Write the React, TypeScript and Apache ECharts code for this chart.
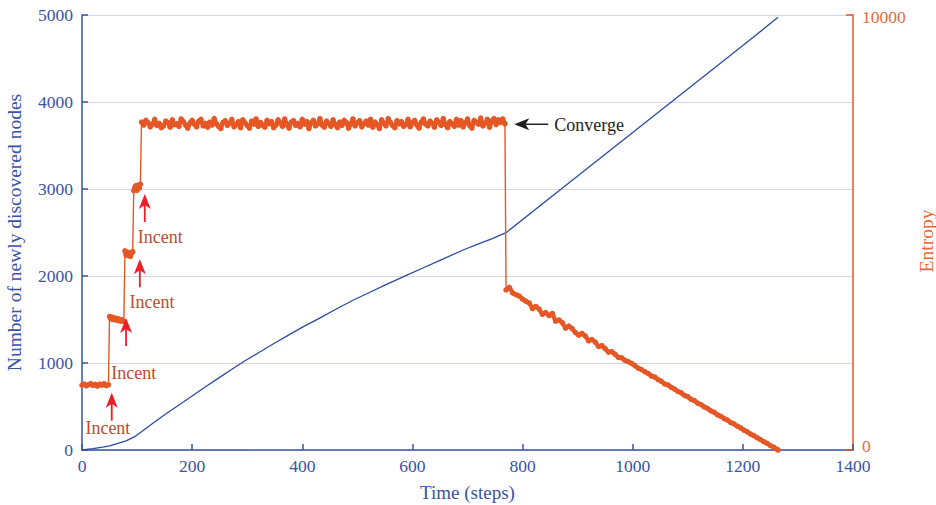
import React, { useEffect, useRef } from "react";
import * as echarts from "echarts";

// ---- Blue series: number of newly discovered nodes (left axis) ----
const blueTimes = [0, 20, 40, 50, 65, 80, 95, 108, 125, 150, 178, 200, 225, 250, 275, 293, 325, 350, 375, 402, 430, 460, 493, 520, 550, 590, 620, 650, 692, 720, 745, 770, 900, 1000, 1100, 1200, 1264];
const blueNodes = [0, 15, 35, 48, 75, 105, 150, 210, 290, 405, 525, 620, 730, 835, 940, 1015, 1135, 1230, 1320, 1418, 1510, 1615, 1724, 1805, 1895, 2011, 2095, 2180, 2299, 2370, 2430, 2498, 3150, 3650, 4150, 4650, 4973];

// ---- Orange series: entropy (right axis), read segment by segment ----
const phase1Entropy = [1490, 1515, 1475, 1505, 1525, 1485, 1510, 1470, 1515, 1490, 1525, 1480, 1500];
const phase2Entropy = [3070, 3020, 3055, 3000, 3045, 3015, 2985, 3025, 2975, 3005, 2960, 2995, 2970, 2955];
const phase3Entropy = [4580, 4480, 4550, 4470, 4540, 4450, 4520, 4560];
const phase4Entropy = [5960, 6040, 6080, 5970, 6090, 6020, 6110];
const plateauEntropy = [
  7540, 7470, 7580, 7520, 7430, 7490, 7600, 7460, 7510, 7410,
  7450, 7560, 7530, 7420, 7590, 7480, 7500, 7440, 7610, 7550,
  7470, 7400, 7520, 7580, 7490, 7430, 7560, 7600, 7450, 7510,
  7420, 7540, 7470, 7620, 7500, 7440, 7390, 7530, 7570, 7460,
  7510, 7600, 7430, 7480, 7550, 7410, 7590, 7520, 7460, 7400,
  7560, 7490, 7610, 7440, 7530, 7470, 7420, 7580, 7500, 7550,
  7410, 7470, 7590, 7520, 7440, 7610, 7480, 7400, 7540, 7570,
  7460, 7510, 7430, 7600, 7490, 7550, 7390, 7520, 7580, 7450,
  7500, 7620, 7470, 7420, 7560, 7510, 7440, 7590, 7480, 7410,
  7540, 7460, 7580, 7530, 7400, 7490, 7610, 7450, 7520, 7570,
  7430, 7500, 7560, 7470, 7600, 7420, 7540, 7480, 7390, 7590,
  7510, 7450, 7620, 7530, 7460, 7410, 7570, 7500, 7550, 7440,
  7480, 7600, 7430, 7520, 7580, 7470, 7400, 7540, 7610, 7490,
  7450, 7560, 7510, 7420, 7590, 7530, 7460, 7620, 7480, 7410,
  7550, 7500, 7440, 7600, 7470, 7570, 7430, 7520, 7610, 7460,
  7400, 7580, 7540, 7490, 7630, 7450, 7510, 7600, 7420, 7560,
  7620, 7480, 7590, 7530, 7610, 7500,
];
const declineEntropy = [
  3680, 3740, 3610, 3570, 3540, 3470, 3420, 3380, 3250, 3300,
  3240, 3120, 3160, 3090, 3140, 2960, 2990, 2930, 2800, 2850,
  2790, 2700, 2640, 2680, 2620, 2510, 2540, 2480, 2380, 2400,
  2330, 2250, 2260, 2200, 2130, 2120, 2060, 2030, 1990, 1940,
  1880, 1850, 1800, 1760, 1700, 1675, 1620, 1580, 1520, 1495,
  1440, 1400, 1345, 1315, 1255, 1225, 1165, 1135, 1075, 1045,
  990, 955, 900, 865, 810, 775, 722, 688, 632, 598,
  547, 508, 457, 418, 367, 330, 281, 241, 191, 153,
  103, 64, 16,
];
const entropyEndTime = 1264;
const entropyEndValue = 0;

const entropySegments = [
  { start: 0, step: 4, values: phase1Entropy },
  { start: 50, step: 2, values: phase2Entropy },
  { start: 78, step: 2, values: phase3Entropy },
  { start: 94, step: 2, values: phase4Entropy },
  { start: 108, step: 4, values: plateauEntropy },
  { start: 770, step: 6, values: declineEntropy },
];

// ---- Annotations (time, left-axis value) ----
const incentArrowTips = [[54, 659], [80, 1517], [105, 2192], [114, 2943]];
const incentLabelCenters = [[47, 256], [94, 885], [127, 1705], [142, 2445]];
const convergeTip = [785, 3744];

const xTicks = { min: 0, max: 1400, interval: 200 };
const leftTicks = { min: 0, max: 5000, interval: 1000 };
const rightTicks = { min: 0, max: 10000, interval: 10000 };
const rightTickLabels = [0, 10000];

const BLUE = "#3853a4";
const LINE_BLUE = "#2d4b9f";
const ORANGE = "#e55725";
const ORANGE_AXIS = "#e8825e";
const ORANGE_TEXT = "#e8683a";
const FONT = "'Liberation Serif', 'Times New Roman', serif";

const plain = (v: number) => String(v);

export default function App() {
  const ref = useRef<HTMLDivElement>(null);
  useEffect(() => {
    const chart = echarts.init(ref.current!, null, { renderer: "svg" });

    const blueData = blueTimes.map((t, i) => [t, blueNodes[i]]);
    const thinData: any[] = [];
    const thickData: any[] = [];
    entropySegments.forEach((seg, si) => {
      if (si > 0) thickData.push([seg.start - 1, null]);
      seg.values.forEach((v, i) => {
        const p = [seg.start + i * seg.step, v];
        thinData.push(p);
        thickData.push(p);
      });
    });
    thinData.push([entropyEndTime, entropyEndValue]);
    thickData.push([entropyEndTime, entropyEndValue]);

    chart.setOption({
      animation: false,
      backgroundColor: "#ffffff",
      textStyle: { fontFamily: FONT },
      grid: {
        left: 82,
        right: 83,
        top: 15,
        bottom: 55,
        containLabel: false,
        outerBoundsMode: "none",
      },
      xAxis: {
        type: "value",
        ...xTicks,
        name: "Time (steps)",
        nameLocation: "middle",
        nameGap: 33,
        nameTextStyle: { color: BLUE, fontSize: 19, fontFamily: FONT },
        axisLine: { show: true, lineStyle: { color: BLUE, width: 1.5 } },
        axisTick: { show: true, inside: true, length: 6, lineStyle: { color: BLUE, width: 1.5 } },
        axisLabel: { color: BLUE, fontSize: 17.5, fontFamily: FONT, margin: 7, formatter: plain },
        splitLine: { show: false },
      },
      yAxis: [
        {
          type: "value",
          ...leftTicks,
          position: "left",
          name: "Number of newly discovered nodes",
          nameLocation: "middle",
          nameGap: 58,
          nameTextStyle: { color: BLUE, fontSize: 19.5, fontFamily: FONT },
          axisLine: { show: true, lineStyle: { color: BLUE, width: 1.5 } },
          axisTick: { show: true, inside: true, length: 6, lineStyle: { color: BLUE, width: 1.5 } },
          axisLabel: { color: BLUE, fontSize: 17.5, fontFamily: FONT, margin: 9, formatter: plain },
          splitLine: { show: true, lineStyle: { color: "#d6d6eb", width: 1 } },
        },
        {
          type: "value",
          ...rightTicks,
          position: "right",
          axisLine: { show: true, lineStyle: { color: ORANGE_AXIS, width: 2 } },
          axisTick: { show: true, inside: true, length: 7, lineStyle: { color: ORANGE, width: 1.5 } },
          axisLabel: { show: false },
          splitLine: { show: false },
        },
      ],
      series: [
        {
          type: "line",
          data: blueData,
          xAxisIndex: 0,
          yAxisIndex: 0,
          showSymbol: false,
          symbol: "none",
          lineStyle: { color: LINE_BLUE, width: 1.3 },
          z: 2,
        },
        {
          type: "line",
          data: thinData,
          xAxisIndex: 0,
          yAxisIndex: 1,
          symbol: "none",
          lineStyle: { color: ORANGE, width: 1.4 },
          z: 3,
        },
        {
          type: "line",
          data: thickData,
          xAxisIndex: 0,
          yAxisIndex: 1,
          symbol: "circle",
          symbolSize: 5.5,
          showSymbol: true,
          showAllSymbol: true,
          itemStyle: { color: ORANGE, borderWidth: 0 },
          connectNulls: false,
          lineStyle: { color: ORANGE, width: 4.4 },
          z: 4,
        },
      ],
    });

    const px = (p: number[]) =>
      chart.convertToPixel({ xAxisIndex: 0, yAxisIndex: 0 }, p) as number[];

    const elements: any[] = [];
    incentArrowTips.forEach((tip) => {
      const [x, y] = px(tip);
      elements.push({
        type: "line",
        shape: { x1: x, y1: y + 8, x2: x, y2: y + 28 },
        style: { stroke: "#ee1c25", lineWidth: 1.8 },
        z: 10,
      });
      elements.push({
        type: "polygon",
        shape: { points: [[x, y], [x + 6, y + 15], [x, y + 11], [x - 6, y + 15]] },
        style: { fill: "#ee1c25" },
        z: 10,
      });
    });
    incentLabelCenters.forEach((c) => {
      const [x, y] = px(c);
      elements.push({
        type: "text",
        x,
        y,
        style: {
          text: "Incent",
          fill: "#c24a2c",
          font: `18px ${FONT}`,
          align: "center",
          verticalAlign: "middle",
        },
        z: 10,
      });
    });
    {
      const [x, y] = px(convergeTip);
      elements.push({
        type: "line",
        shape: { x1: x + 8, y1: y, x2: x + 34, y2: y },
        style: { stroke: "#1e1e1e", lineWidth: 1.5 },
        z: 10,
      });
      elements.push({
        type: "polygon",
        shape: { points: [[x, y], [x + 15, y - 6], [x + 11, y], [x + 15, y + 6]] },
        style: { fill: "#1e1e1e" },
        z: 10,
      });
      elements.push({
        type: "text",
        x: x + 40,
        y: y + 1,
        style: {
          text: "Converge",
          fill: "#222222",
          font: `18px ${FONT}`,
          align: "left",
          verticalAlign: "middle",
        },
        z: 10,
      });
    }
    // right axis tick labels
    const rightX = (chart.convertToPixel({ xAxisIndex: 0 }, xTicks.max) as number) + 9;
    rightTickLabels.forEach((v) => {
      const y = chart.convertToPixel({ yAxisIndex: 1 }, v) as number;
      elements.push({
        type: "text",
        x: rightX,
        y: v === 0 ? y - 4 : y + 2,
        style: {
          text: plain(v),
          fill: ORANGE_TEXT,
          font: `17.5px ${FONT}`,
          align: "left",
          verticalAlign: "middle",
        },
        z: 10,
      });
    });
    // right axis title, rotated to read bottom-to-top
    elements.push({
      type: "text",
      x: 926,
      y: 241,
      rotation: Math.PI / 2,
      style: {
        text: "Entropy",
        fill: ORANGE_TEXT,
        font: `19.5px ${FONT}`,
        align: "center",
        verticalAlign: "middle",
      },
      z: 10,
    });
    chart.setOption({ graphic: { elements } });

    return () => chart.dispose();
  }, []);
  return (
    <div
      ref={ref}
      style={{ position: "absolute", left: 0, top: 0, width: 936, height: 505 }}
    />
  );
}
